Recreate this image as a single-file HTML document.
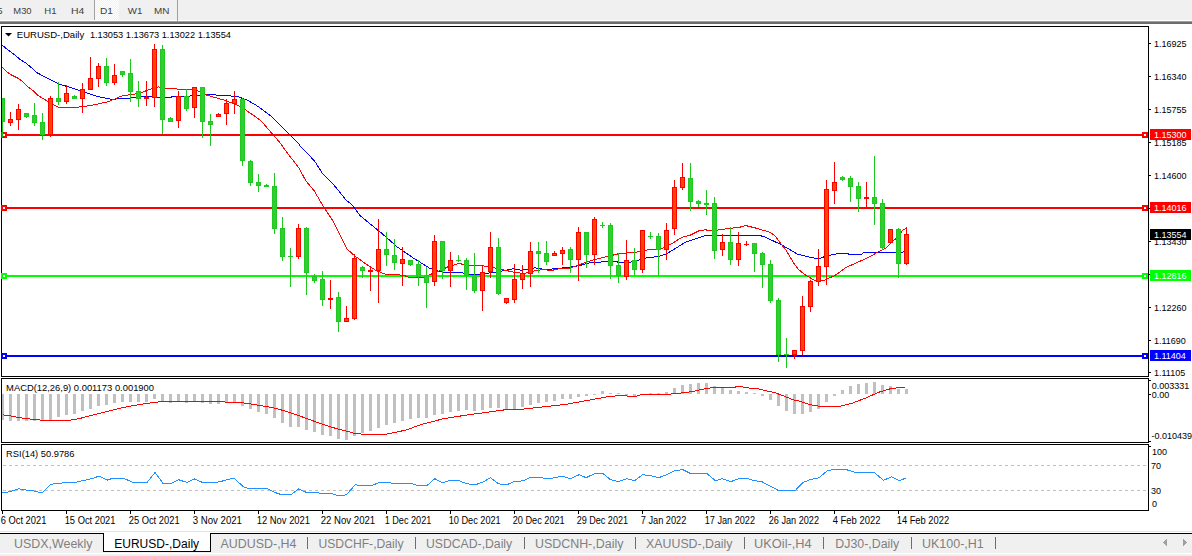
<!DOCTYPE html>
<html><head><meta charset="utf-8"><style>
html,body{margin:0;padding:0;width:1192px;height:556px;overflow:hidden;background:#fff;}
svg{display:block;}
text{font-family:"Liberation Sans",sans-serif;}
</style></head><body>
<svg width="1192" height="556" viewBox="0 0 1192 556" shape-rendering="crispEdges">
<defs>
<pattern id="chk" width="2" height="2" patternUnits="userSpaceOnUse"><rect width="2" height="2" fill="#F0F0F0"/><rect width="1" height="1" fill="#FFFFFF"/><rect x="1" y="1" width="1" height="1" fill="#FFFFFF"/></pattern>
<clipPath id="cmain"><rect x="2" y="27" width="1146" height="349"/></clipPath>
<clipPath id="cmacd"><rect x="2" y="379" width="1146" height="63"/></clipPath>
<clipPath id="crsi"><rect x="2" y="445" width="1146" height="65"/></clipPath>
</defs>
<!-- toolbar -->
<rect x="0" y="0" width="1192" height="20" fill="#F0F0F0"/>
<rect x="0" y="20" width="1192" height="1" fill="#FFFFFF"/>
<rect x="0" y="21" width="1192" height="1" fill="#A0A0A0"/>
<rect x="0" y="22" width="1192" height="2" fill="#6D6D6D"/>
<rect x="95" y="0" width="24" height="20" fill="url(#chk)"/>
<rect x="94" y="0" width="1" height="20" fill="#A0A0A0"/>
<rect x="177" y="0" width="1" height="21" fill="#A0A0A0"/>
<g font-size="9.5" fill="#404040">
<text x="-2.8" y="13.8">5</text>
<text x="13.3" y="13.8" font-size="9.5" textLength="18.3" lengthAdjust="spacingAndGlyphs">M30</text>
<text x="44.3" y="13.8" font-size="9.5" textLength="12.2" lengthAdjust="spacingAndGlyphs">H1</text>
<text x="70.9" y="13.8" font-size="9.5" textLength="13.3" lengthAdjust="spacingAndGlyphs">H4</text>
<text x="99.9" y="13.8" font-size="9.5" textLength="13.0" lengthAdjust="spacingAndGlyphs">D1</text>
<text x="127.8" y="13.8" font-size="9.5" textLength="14.6" lengthAdjust="spacingAndGlyphs">W1</text>
<text x="154.1" y="13.8" font-size="9.5" textLength="15.4" lengthAdjust="spacingAndGlyphs">MN</text>
</g>
<!-- main chart border -->
<g fill="#000">
<rect x="1" y="26" width="1148" height="1"/>
<rect x="1" y="26" width="1" height="351"/>
<rect x="1148" y="26" width="1" height="351"/>
<rect x="1" y="376" width="1148" height="1"/>
<rect x="1" y="378" width="1148" height="1"/>
<rect x="1" y="378" width="1" height="65"/>
<rect x="1148" y="378" width="1" height="65"/>
<rect x="1" y="442" width="1148" height="1"/>
<rect x="1" y="444" width="1148" height="1"/>
<rect x="1" y="444" width="1" height="67"/>
<rect x="1148" y="444" width="1" height="67"/>
<rect x="1" y="510" width="1148" height="1"/>
</g>
<rect x="1" y="132" width="6" height="6" fill="#FF0000"/><rect x="3" y="134" width="2" height="2" fill="#fff"/><rect x="1142" y="132" width="6" height="6" fill="#FF0000"/><rect x="1144" y="134" width="2" height="2" fill="#fff"/>
<rect x="1" y="205" width="6" height="6" fill="#FF0000"/><rect x="3" y="207" width="2" height="2" fill="#fff"/><rect x="1142" y="205" width="6" height="6" fill="#FF0000"/><rect x="1144" y="207" width="2" height="2" fill="#fff"/>
<rect x="1" y="273" width="6" height="6" fill="#00FF00"/><rect x="3" y="275" width="2" height="2" fill="#fff"/><rect x="1142" y="273" width="6" height="6" fill="#00FF00"/><rect x="1144" y="275" width="2" height="2" fill="#fff"/>
<rect x="1" y="353" width="6" height="6" fill="#0000FF"/><rect x="3" y="355" width="2" height="2" fill="#fff"/><rect x="1142" y="353" width="6" height="6" fill="#0000FF"/><rect x="1144" y="355" width="2" height="2" fill="#fff"/>
<g clip-path="url(#cmain)">
<rect x="7" y="134" width="1135" height="2" fill="#FF0000"/>
<rect x="7" y="207" width="1135" height="2" fill="#FF0000"/>
<rect x="7" y="275" width="1135" height="2" fill="#00FF00"/>
<rect x="7" y="355" width="1135" height="2" fill="#0000FF"/>
<polyline fill="none" stroke="#0000FF" stroke-width="1" points="2.5,45.5 8.1,50.0 14.5,54.7 20.4,59.7 25.9,63.1 32.6,68.6 36.5,72.5 58.5,83.8 81.1,90.9 95.2,95.9 111.3,99.3 131.5,97.9 140.5,96.5 158.0,97.3 164.8,98.0 174.2,96.6 190.5,96.0 205.2,94.6 224.1,95.3 237.5,96.6 247.1,100.0 255.2,104.7 258.5,106.8 272.0,116.9 280.0,125.0 289.5,134.5 298.9,143.9 300.5,146.5 310.6,156.7 315.3,162.1 322.1,172.9 332.9,183.7 341.0,193.8 346.4,200.5 351.8,204.6 359.9,215.5 365.0,219.7 381.1,232.8 397.2,246.9 413.3,258.0 429.5,268.1 440.5,271.9 462.1,272.9 472.9,274.9 485.0,273.5 499.9,271.5 513.4,268.8 521.5,270.2 526.9,269.5 535.0,267.9 545.8,269.5 557.9,268.5 572.8,266.8 580.8,265.2 590.5,262.7 606.7,261.6 614.8,261.4 617.5,262.0 631.0,262.0 639.1,260.0 647.2,257.6 658.0,256.7 666.1,254.0 674.2,249.2 685.0,242.5 695.8,238.7 705.2,235.7 717.4,235.7 720.1,235.1 740.5,235.1 756.7,235.1 763.5,236.4 781.0,244.5 797.2,254.0 808.0,256.7 818.8,259.0 824.2,256.7 832.3,254.6 840.4,253.3 847.1,253.3 848.5,254.0 862.0,254.0 863.3,252.6 897.1,252.6 904.5,251.9"/>
<polyline fill="none" stroke="#FF0000" stroke-width="1" points="2.5,67.5 6.5,71.5 11.3,74.9 18.0,78.3 22.5,81.5 27.5,86.5 32.9,90.5 38.3,95.8 41.0,97.2 47.7,101.3 54.5,105.3 58.5,107.4 70.7,107.8 82.8,106.7 95.0,104.7 108.5,101.6 122.0,95.9 135.5,93.9 140.5,92.8 148.5,89.9 158.0,86.9 167.5,88.5 181.0,89.2 191.8,89.9 193.9,89.9 195.0,89.7 207.2,95.3 226.1,100.7 238.2,105.5 245.0,109.5 255.8,116.9 261.2,121.0 269.3,130.5 278.7,141.2 288.2,154.0 299.0,168.1 300.5,170.9 305.9,181.0 314.0,190.5 323.4,206.6 328.8,214.7 332.7,220.7 346.8,248.9 354.9,256.0 369.0,266.1 377.1,271.1 387.1,274.7 403.3,275.1 409.3,277.5 423.4,277.5 433.5,273.1 440.5,270.5 448.5,266.5 459.4,263.4 467.5,265.7 472.9,265.7 487.7,266.1 494.5,267.9 505.3,270.2 513.4,272.2 524.2,273.5 535.0,270.8 543.1,269.5 551.2,270.5 559.3,268.8 570.1,268.1 580.8,264.1 590.5,260.7 606.7,256.7 617.5,254.0 637.7,251.9 647.2,249.9 655.3,249.9 663.4,247.9 671.5,243.8 682.3,237.1 690.4,235.1 698.5,231.0 705.2,229.7 710.6,231.0 720.1,229.7 730.8,228.3 738.9,227.0 740.5,227.0 745.9,225.6 756.7,228.3 770.2,232.4 775.6,236.4 781.0,243.8 786.4,250.6 793.1,262.1 798.5,269.5 805.3,274.9 812.0,278.9 817.4,281.9 824.2,280.3 835.0,275.5 845.8,267.5 856.6,262.7 867.4,258.0 878.2,251.9 886.3,247.9 891.7,241.8 897.1,237.8 902.2,230.7 906.7,227.7"/>
<rect x="2" y="98" width="1" height="39" fill="#1FC81F"/>
<rect x="0" y="98" width="5" height="24" fill="#1FC81F"/>
<rect x="1" y="99" width="3" height="22" fill="#32CD32"/>
<rect x="10" y="112" width="1" height="14" fill="#FF0000"/>
<rect x="8" y="119" width="5" height="4" fill="#FF0000"/>
<rect x="9" y="120" width="3" height="2" fill="#FF4500"/>
<rect x="18" y="104" width="1" height="26" fill="#FF0000"/>
<rect x="16" y="109" width="5" height="11" fill="#FF0000"/>
<rect x="17" y="110" width="3" height="9" fill="#FF4500"/>
<rect x="26" y="113" width="1" height="5" fill="#1FC81F"/>
<rect x="24" y="113" width="5" height="4" fill="#1FC81F"/>
<rect x="25" y="114" width="3" height="2" fill="#32CD32"/>
<rect x="34" y="103" width="1" height="23" fill="#1FC81F"/>
<rect x="32" y="115" width="5" height="8" fill="#1FC81F"/>
<rect x="33" y="116" width="3" height="6" fill="#32CD32"/>
<rect x="42" y="113" width="1" height="27" fill="#1FC81F"/>
<rect x="40" y="122" width="5" height="13" fill="#1FC81F"/>
<rect x="41" y="123" width="3" height="11" fill="#32CD32"/>
<rect x="50" y="96" width="1" height="41" fill="#FF0000"/>
<rect x="48" y="98" width="5" height="37" fill="#FF0000"/>
<rect x="49" y="99" width="3" height="35" fill="#FF4500"/>
<rect x="58" y="82" width="1" height="23" fill="#1FC81F"/>
<rect x="56" y="98" width="5" height="4" fill="#1FC81F"/>
<rect x="57" y="99" width="3" height="2" fill="#32CD32"/>
<rect x="66" y="85" width="1" height="19" fill="#FF0000"/>
<rect x="64" y="93" width="5" height="9" fill="#FF0000"/>
<rect x="65" y="94" width="3" height="7" fill="#FF4500"/>
<rect x="74" y="95" width="1" height="4" fill="#1FC81F"/>
<rect x="72" y="96" width="5" height="3" fill="#1FC81F"/>
<rect x="73" y="97" width="3" height="1" fill="#32CD32"/>
<rect x="82" y="83" width="1" height="30" fill="#FF0000"/>
<rect x="80" y="89" width="5" height="10" fill="#FF0000"/>
<rect x="81" y="90" width="3" height="8" fill="#FF4500"/>
<rect x="90" y="57" width="1" height="33" fill="#FF0000"/>
<rect x="88" y="78" width="5" height="12" fill="#FF0000"/>
<rect x="89" y="79" width="3" height="10" fill="#FF4500"/>
<rect x="98" y="63" width="1" height="24" fill="#FF0000"/>
<rect x="96" y="66" width="5" height="13" fill="#FF0000"/>
<rect x="97" y="67" width="3" height="11" fill="#FF4500"/>
<rect x="106" y="58" width="1" height="28" fill="#1FC81F"/>
<rect x="104" y="66" width="5" height="17" fill="#1FC81F"/>
<rect x="105" y="67" width="3" height="15" fill="#32CD32"/>
<rect x="114" y="64" width="1" height="21" fill="#FF0000"/>
<rect x="112" y="75" width="5" height="8" fill="#FF0000"/>
<rect x="113" y="76" width="3" height="6" fill="#FF4500"/>
<rect x="122" y="71" width="1" height="6" fill="#1FC81F"/>
<rect x="120" y="71" width="5" height="4" fill="#1FC81F"/>
<rect x="121" y="72" width="3" height="2" fill="#32CD32"/>
<rect x="130" y="59" width="1" height="43" fill="#1FC81F"/>
<rect x="128" y="73" width="5" height="19" fill="#1FC81F"/>
<rect x="129" y="74" width="3" height="17" fill="#32CD32"/>
<rect x="138" y="81" width="1" height="26" fill="#1FC81F"/>
<rect x="136" y="91" width="5" height="8" fill="#1FC81F"/>
<rect x="137" y="92" width="3" height="6" fill="#32CD32"/>
<rect x="146" y="81" width="1" height="25" fill="#FF0000"/>
<rect x="144" y="97" width="5" height="2" fill="#FF0000"/>
<rect x="154" y="44" width="1" height="63" fill="#FF0000"/>
<rect x="152" y="49" width="5" height="49" fill="#FF0000"/>
<rect x="153" y="50" width="3" height="47" fill="#FF4500"/>
<rect x="162" y="45" width="1" height="89" fill="#1FC81F"/>
<rect x="160" y="49" width="5" height="71" fill="#1FC81F"/>
<rect x="161" y="50" width="3" height="69" fill="#32CD32"/>
<rect x="170" y="117" width="1" height="5" fill="#1FC81F"/>
<rect x="168" y="118" width="5" height="4" fill="#1FC81F"/>
<rect x="169" y="119" width="3" height="2" fill="#32CD32"/>
<rect x="178" y="91" width="1" height="37" fill="#FF0000"/>
<rect x="176" y="96" width="5" height="25" fill="#FF0000"/>
<rect x="177" y="97" width="3" height="23" fill="#FF4500"/>
<rect x="186" y="89" width="1" height="22" fill="#1FC81F"/>
<rect x="184" y="96" width="5" height="13" fill="#1FC81F"/>
<rect x="185" y="97" width="3" height="11" fill="#32CD32"/>
<rect x="194" y="87" width="1" height="31" fill="#FF0000"/>
<rect x="192" y="87" width="5" height="21" fill="#FF0000"/>
<rect x="193" y="88" width="3" height="19" fill="#FF4500"/>
<rect x="202" y="87" width="1" height="51" fill="#1FC81F"/>
<rect x="200" y="87" width="5" height="35" fill="#1FC81F"/>
<rect x="201" y="88" width="3" height="33" fill="#32CD32"/>
<rect x="210" y="114" width="1" height="32" fill="#1FC81F"/>
<rect x="208" y="121" width="5" height="4" fill="#1FC81F"/>
<rect x="209" y="122" width="3" height="2" fill="#32CD32"/>
<rect x="218" y="113" width="1" height="4" fill="#FF0000"/>
<rect x="216" y="114" width="5" height="3" fill="#FF0000"/>
<rect x="217" y="115" width="3" height="1" fill="#FF4500"/>
<rect x="226" y="99" width="1" height="26" fill="#FF0000"/>
<rect x="224" y="103" width="5" height="11" fill="#FF0000"/>
<rect x="225" y="104" width="3" height="9" fill="#FF4500"/>
<rect x="234" y="91" width="1" height="23" fill="#FF0000"/>
<rect x="232" y="99" width="5" height="5" fill="#FF0000"/>
<rect x="233" y="100" width="3" height="3" fill="#FF4500"/>
<rect x="242" y="98" width="1" height="68" fill="#1FC81F"/>
<rect x="240" y="99" width="5" height="62" fill="#1FC81F"/>
<rect x="241" y="100" width="3" height="60" fill="#32CD32"/>
<rect x="250" y="160" width="1" height="26" fill="#1FC81F"/>
<rect x="248" y="161" width="5" height="22" fill="#1FC81F"/>
<rect x="249" y="162" width="3" height="20" fill="#32CD32"/>
<rect x="258" y="174" width="1" height="18" fill="#1FC81F"/>
<rect x="256" y="182" width="5" height="4" fill="#1FC81F"/>
<rect x="257" y="183" width="3" height="2" fill="#32CD32"/>
<rect x="266" y="184" width="1" height="3" fill="#1FC81F"/>
<rect x="264" y="185" width="5" height="2" fill="#1FC81F"/>
<rect x="274" y="173" width="1" height="61" fill="#1FC81F"/>
<rect x="272" y="186" width="5" height="43" fill="#1FC81F"/>
<rect x="273" y="187" width="3" height="41" fill="#32CD32"/>
<rect x="282" y="217" width="1" height="44" fill="#1FC81F"/>
<rect x="280" y="228" width="5" height="29" fill="#1FC81F"/>
<rect x="281" y="229" width="3" height="27" fill="#32CD32"/>
<rect x="290" y="248" width="1" height="39" fill="#1FC81F"/>
<rect x="288" y="256" width="5" height="1" fill="#1FC81F"/>
<rect x="298" y="224" width="1" height="35" fill="#FF0000"/>
<rect x="296" y="228" width="5" height="29" fill="#FF0000"/>
<rect x="297" y="229" width="3" height="27" fill="#FF4500"/>
<rect x="306" y="227" width="1" height="68" fill="#1FC81F"/>
<rect x="304" y="228" width="5" height="45" fill="#1FC81F"/>
<rect x="305" y="229" width="3" height="43" fill="#32CD32"/>
<rect x="314" y="274" width="1" height="9" fill="#1FC81F"/>
<rect x="312" y="276" width="5" height="5" fill="#1FC81F"/>
<rect x="313" y="277" width="3" height="3" fill="#32CD32"/>
<rect x="322" y="271" width="1" height="35" fill="#1FC81F"/>
<rect x="320" y="279" width="5" height="21" fill="#1FC81F"/>
<rect x="321" y="280" width="3" height="19" fill="#32CD32"/>
<rect x="330" y="280" width="1" height="29" fill="#FF0000"/>
<rect x="328" y="298" width="5" height="2" fill="#FF0000"/>
<rect x="338" y="292" width="1" height="40" fill="#1FC81F"/>
<rect x="336" y="297" width="5" height="25" fill="#1FC81F"/>
<rect x="337" y="298" width="3" height="23" fill="#32CD32"/>
<rect x="346" y="306" width="1" height="16" fill="#FF0000"/>
<rect x="344" y="318" width="5" height="4" fill="#FF0000"/>
<rect x="345" y="319" width="3" height="2" fill="#FF4500"/>
<rect x="354" y="254" width="1" height="66" fill="#FF0000"/>
<rect x="352" y="258" width="5" height="61" fill="#FF0000"/>
<rect x="353" y="259" width="3" height="59" fill="#FF4500"/>
<rect x="362" y="266" width="1" height="12" fill="#1FC81F"/>
<rect x="360" y="267" width="5" height="4" fill="#1FC81F"/>
<rect x="361" y="268" width="3" height="2" fill="#32CD32"/>
<rect x="370" y="266" width="1" height="25" fill="#FF0000"/>
<rect x="368" y="270" width="5" height="2" fill="#FF0000"/>
<rect x="378" y="219" width="1" height="84" fill="#FF0000"/>
<rect x="376" y="249" width="5" height="22" fill="#FF0000"/>
<rect x="377" y="250" width="3" height="20" fill="#FF4500"/>
<rect x="386" y="232" width="1" height="34" fill="#1FC81F"/>
<rect x="384" y="249" width="5" height="6" fill="#1FC81F"/>
<rect x="385" y="250" width="3" height="4" fill="#32CD32"/>
<rect x="394" y="239" width="1" height="31" fill="#1FC81F"/>
<rect x="392" y="255" width="5" height="8" fill="#1FC81F"/>
<rect x="393" y="256" width="3" height="6" fill="#32CD32"/>
<rect x="402" y="247" width="1" height="39" fill="#FF0000"/>
<rect x="400" y="259" width="5" height="5" fill="#FF0000"/>
<rect x="401" y="260" width="3" height="3" fill="#FF4500"/>
<rect x="410" y="260" width="1" height="6" fill="#1FC81F"/>
<rect x="408" y="260" width="5" height="5" fill="#1FC81F"/>
<rect x="409" y="261" width="3" height="3" fill="#32CD32"/>
<rect x="418" y="260" width="1" height="26" fill="#1FC81F"/>
<rect x="416" y="264" width="5" height="13" fill="#1FC81F"/>
<rect x="417" y="265" width="3" height="11" fill="#32CD32"/>
<rect x="426" y="267" width="1" height="41" fill="#1FC81F"/>
<rect x="424" y="275" width="5" height="8" fill="#1FC81F"/>
<rect x="425" y="276" width="3" height="6" fill="#32CD32"/>
<rect x="434" y="235" width="1" height="51" fill="#FF0000"/>
<rect x="432" y="241" width="5" height="41" fill="#FF0000"/>
<rect x="433" y="242" width="3" height="39" fill="#FF4500"/>
<rect x="442" y="241" width="1" height="38" fill="#1FC81F"/>
<rect x="440" y="241" width="5" height="30" fill="#1FC81F"/>
<rect x="441" y="242" width="3" height="28" fill="#32CD32"/>
<rect x="450" y="252" width="1" height="35" fill="#FF0000"/>
<rect x="448" y="260" width="5" height="11" fill="#FF0000"/>
<rect x="449" y="261" width="3" height="9" fill="#FF4500"/>
<rect x="458" y="255" width="1" height="7" fill="#1FC81F"/>
<rect x="456" y="260" width="5" height="1" fill="#1FC81F"/>
<rect x="466" y="258" width="1" height="32" fill="#1FC81F"/>
<rect x="464" y="260" width="5" height="16" fill="#1FC81F"/>
<rect x="465" y="261" width="3" height="14" fill="#32CD32"/>
<rect x="474" y="253" width="1" height="40" fill="#1FC81F"/>
<rect x="472" y="275" width="5" height="16" fill="#1FC81F"/>
<rect x="473" y="276" width="3" height="14" fill="#32CD32"/>
<rect x="482" y="265" width="1" height="46" fill="#FF0000"/>
<rect x="480" y="272" width="5" height="19" fill="#FF0000"/>
<rect x="481" y="273" width="3" height="17" fill="#FF4500"/>
<rect x="490" y="232" width="1" height="46" fill="#FF0000"/>
<rect x="488" y="247" width="5" height="25" fill="#FF0000"/>
<rect x="489" y="248" width="3" height="23" fill="#FF4500"/>
<rect x="498" y="238" width="1" height="57" fill="#1FC81F"/>
<rect x="496" y="247" width="5" height="47" fill="#1FC81F"/>
<rect x="497" y="248" width="3" height="45" fill="#32CD32"/>
<rect x="506" y="298" width="1" height="6" fill="#FF0000"/>
<rect x="504" y="298" width="5" height="5" fill="#FF0000"/>
<rect x="505" y="299" width="3" height="3" fill="#FF4500"/>
<rect x="514" y="264" width="1" height="39" fill="#FF0000"/>
<rect x="512" y="279" width="5" height="21" fill="#FF0000"/>
<rect x="513" y="280" width="3" height="19" fill="#FF4500"/>
<rect x="522" y="265" width="1" height="24" fill="#FF0000"/>
<rect x="520" y="273" width="5" height="7" fill="#FF0000"/>
<rect x="521" y="274" width="3" height="5" fill="#FF4500"/>
<rect x="530" y="242" width="1" height="45" fill="#FF0000"/>
<rect x="528" y="251" width="5" height="23" fill="#FF0000"/>
<rect x="529" y="252" width="3" height="21" fill="#FF4500"/>
<rect x="538" y="242" width="1" height="31" fill="#1FC81F"/>
<rect x="536" y="251" width="5" height="3" fill="#1FC81F"/>
<rect x="537" y="252" width="3" height="1" fill="#32CD32"/>
<rect x="546" y="241" width="1" height="24" fill="#1FC81F"/>
<rect x="544" y="253" width="5" height="9" fill="#1FC81F"/>
<rect x="545" y="254" width="3" height="7" fill="#32CD32"/>
<rect x="554" y="251" width="1" height="5" fill="#FF0000"/>
<rect x="552" y="253" width="5" height="3" fill="#FF0000"/>
<rect x="553" y="254" width="3" height="1" fill="#FF4500"/>
<rect x="562" y="247" width="1" height="18" fill="#FF0000"/>
<rect x="560" y="250" width="5" height="4" fill="#FF0000"/>
<rect x="561" y="251" width="3" height="2" fill="#FF4500"/>
<rect x="570" y="247" width="1" height="26" fill="#1FC81F"/>
<rect x="568" y="249" width="5" height="11" fill="#1FC81F"/>
<rect x="569" y="250" width="3" height="9" fill="#32CD32"/>
<rect x="578" y="227" width="1" height="54" fill="#FF0000"/>
<rect x="576" y="232" width="5" height="28" fill="#FF0000"/>
<rect x="577" y="233" width="3" height="26" fill="#FF4500"/>
<rect x="586" y="232" width="1" height="36" fill="#1FC81F"/>
<rect x="584" y="232" width="5" height="23" fill="#1FC81F"/>
<rect x="585" y="233" width="3" height="21" fill="#32CD32"/>
<rect x="594" y="217" width="1" height="48" fill="#FF0000"/>
<rect x="592" y="219" width="5" height="36" fill="#FF0000"/>
<rect x="593" y="220" width="3" height="34" fill="#FF4500"/>
<rect x="602" y="222" width="1" height="6" fill="#1FC81F"/>
<rect x="600" y="225" width="5" height="1" fill="#1FC81F"/>
<rect x="610" y="223" width="1" height="56" fill="#1FC81F"/>
<rect x="608" y="225" width="5" height="41" fill="#1FC81F"/>
<rect x="609" y="226" width="3" height="39" fill="#32CD32"/>
<rect x="618" y="253" width="1" height="30" fill="#1FC81F"/>
<rect x="616" y="265" width="5" height="11" fill="#1FC81F"/>
<rect x="617" y="266" width="3" height="9" fill="#32CD32"/>
<rect x="626" y="240" width="1" height="40" fill="#FF0000"/>
<rect x="624" y="260" width="5" height="17" fill="#FF0000"/>
<rect x="625" y="261" width="3" height="15" fill="#FF4500"/>
<rect x="634" y="248" width="1" height="27" fill="#1FC81F"/>
<rect x="632" y="260" width="5" height="10" fill="#1FC81F"/>
<rect x="633" y="261" width="3" height="8" fill="#32CD32"/>
<rect x="642" y="230" width="1" height="43" fill="#FF0000"/>
<rect x="640" y="230" width="5" height="40" fill="#FF0000"/>
<rect x="641" y="231" width="3" height="38" fill="#FF4500"/>
<rect x="650" y="232" width="1" height="7" fill="#1FC81F"/>
<rect x="648" y="236" width="5" height="1" fill="#1FC81F"/>
<rect x="658" y="233" width="1" height="43" fill="#1FC81F"/>
<rect x="656" y="236" width="5" height="14" fill="#1FC81F"/>
<rect x="657" y="237" width="3" height="12" fill="#32CD32"/>
<rect x="666" y="223" width="1" height="37" fill="#FF0000"/>
<rect x="664" y="230" width="5" height="20" fill="#FF0000"/>
<rect x="665" y="231" width="3" height="18" fill="#FF4500"/>
<rect x="674" y="180" width="1" height="55" fill="#FF0000"/>
<rect x="672" y="187" width="5" height="42" fill="#FF0000"/>
<rect x="673" y="188" width="3" height="40" fill="#FF4500"/>
<rect x="682" y="163" width="1" height="27" fill="#FF0000"/>
<rect x="680" y="177" width="5" height="11" fill="#FF0000"/>
<rect x="681" y="178" width="3" height="9" fill="#FF4500"/>
<rect x="690" y="163" width="1" height="48" fill="#1FC81F"/>
<rect x="688" y="178" width="5" height="24" fill="#1FC81F"/>
<rect x="689" y="179" width="3" height="22" fill="#32CD32"/>
<rect x="698" y="200" width="1" height="7" fill="#1FC81F"/>
<rect x="696" y="201" width="5" height="3" fill="#1FC81F"/>
<rect x="697" y="202" width="3" height="1" fill="#32CD32"/>
<rect x="706" y="190" width="1" height="25" fill="#1FC81F"/>
<rect x="704" y="203" width="5" height="2" fill="#1FC81F"/>
<rect x="714" y="197" width="1" height="62" fill="#1FC81F"/>
<rect x="712" y="203" width="5" height="48" fill="#1FC81F"/>
<rect x="713" y="204" width="3" height="46" fill="#32CD32"/>
<rect x="722" y="234" width="1" height="22" fill="#FF0000"/>
<rect x="720" y="242" width="5" height="8" fill="#FF0000"/>
<rect x="721" y="243" width="3" height="6" fill="#FF4500"/>
<rect x="730" y="227" width="1" height="38" fill="#1FC81F"/>
<rect x="728" y="242" width="5" height="18" fill="#1FC81F"/>
<rect x="729" y="243" width="3" height="16" fill="#32CD32"/>
<rect x="738" y="232" width="1" height="34" fill="#FF0000"/>
<rect x="736" y="243" width="5" height="17" fill="#FF0000"/>
<rect x="737" y="244" width="3" height="15" fill="#FF4500"/>
<rect x="746" y="241" width="1" height="5" fill="#FF0000"/>
<rect x="744" y="244" width="5" height="1" fill="#FF0000"/>
<rect x="754" y="243" width="1" height="29" fill="#1FC81F"/>
<rect x="752" y="243" width="5" height="11" fill="#1FC81F"/>
<rect x="753" y="244" width="3" height="9" fill="#32CD32"/>
<rect x="762" y="252" width="1" height="36" fill="#1FC81F"/>
<rect x="760" y="253" width="5" height="12" fill="#1FC81F"/>
<rect x="761" y="254" width="3" height="10" fill="#32CD32"/>
<rect x="770" y="260" width="1" height="43" fill="#1FC81F"/>
<rect x="768" y="264" width="5" height="37" fill="#1FC81F"/>
<rect x="769" y="265" width="3" height="35" fill="#32CD32"/>
<rect x="778" y="298" width="1" height="64" fill="#1FC81F"/>
<rect x="776" y="300" width="5" height="55" fill="#1FC81F"/>
<rect x="777" y="301" width="3" height="53" fill="#32CD32"/>
<rect x="786" y="338" width="1" height="30" fill="#1FC81F"/>
<rect x="784" y="354" width="5" height="1" fill="#1FC81F"/>
<rect x="794" y="350" width="1" height="9" fill="#FF0000"/>
<rect x="792" y="350" width="5" height="5" fill="#FF0000"/>
<rect x="793" y="351" width="3" height="3" fill="#FF4500"/>
<rect x="802" y="296" width="1" height="59" fill="#FF0000"/>
<rect x="800" y="306" width="5" height="45" fill="#FF0000"/>
<rect x="801" y="307" width="3" height="43" fill="#FF4500"/>
<rect x="810" y="280" width="1" height="32" fill="#FF0000"/>
<rect x="808" y="281" width="5" height="26" fill="#FF0000"/>
<rect x="809" y="282" width="3" height="24" fill="#FF4500"/>
<rect x="818" y="249" width="1" height="37" fill="#FF0000"/>
<rect x="816" y="266" width="5" height="16" fill="#FF0000"/>
<rect x="817" y="267" width="3" height="14" fill="#FF4500"/>
<rect x="826" y="180" width="1" height="105" fill="#FF0000"/>
<rect x="824" y="189" width="5" height="78" fill="#FF0000"/>
<rect x="825" y="190" width="3" height="76" fill="#FF4500"/>
<rect x="834" y="162" width="1" height="42" fill="#FF0000"/>
<rect x="832" y="182" width="5" height="9" fill="#FF0000"/>
<rect x="833" y="183" width="3" height="7" fill="#FF4500"/>
<rect x="842" y="176" width="1" height="5" fill="#1FC81F"/>
<rect x="840" y="177" width="5" height="3" fill="#1FC81F"/>
<rect x="841" y="178" width="3" height="1" fill="#32CD32"/>
<rect x="850" y="176" width="1" height="26" fill="#1FC81F"/>
<rect x="848" y="178" width="5" height="9" fill="#1FC81F"/>
<rect x="849" y="179" width="3" height="7" fill="#32CD32"/>
<rect x="858" y="182" width="1" height="30" fill="#1FC81F"/>
<rect x="856" y="186" width="5" height="13" fill="#1FC81F"/>
<rect x="857" y="187" width="3" height="11" fill="#32CD32"/>
<rect x="866" y="182" width="1" height="26" fill="#FF0000"/>
<rect x="864" y="197" width="5" height="2" fill="#FF0000"/>
<rect x="874" y="156" width="1" height="69" fill="#1FC81F"/>
<rect x="872" y="197" width="5" height="7" fill="#1FC81F"/>
<rect x="873" y="198" width="3" height="5" fill="#32CD32"/>
<rect x="882" y="199" width="1" height="51" fill="#1FC81F"/>
<rect x="880" y="203" width="5" height="45" fill="#1FC81F"/>
<rect x="881" y="204" width="3" height="43" fill="#32CD32"/>
<rect x="890" y="229" width="1" height="14" fill="#FF0000"/>
<rect x="888" y="229" width="5" height="14" fill="#FF0000"/>
<rect x="889" y="230" width="3" height="12" fill="#FF4500"/>
<rect x="898" y="228" width="1" height="50" fill="#1FC81F"/>
<rect x="896" y="229" width="5" height="35" fill="#1FC81F"/>
<rect x="897" y="230" width="3" height="33" fill="#32CD32"/>
<rect x="906" y="227" width="1" height="38" fill="#FF0000"/>
<rect x="904" y="234" width="5" height="30" fill="#FF0000"/>
<rect x="905" y="235" width="3" height="28" fill="#FF4500"/>
</g>
<!-- price axis -->
<g fill="#000">
<rect x="1149" y="43" width="2" height="1"/><text x="1154" y="47.2" font-size="9">1.16925</text>
<rect x="1149" y="76" width="2" height="1"/><text x="1154" y="80.2" font-size="9">1.16340</text>
<rect x="1149" y="109" width="2" height="1"/><text x="1154" y="113.2" font-size="9">1.15755</text>
<rect x="1149" y="142" width="2" height="1"/><text x="1154" y="146.2" font-size="9">1.15185</text>
<rect x="1149" y="175" width="2" height="1"/><text x="1154" y="179.2" font-size="9">1.14600</text>
<rect x="1149" y="241" width="2" height="1"/><text x="1154" y="245.2" font-size="9">1.13430</text>
<rect x="1149" y="307" width="2" height="1"/><text x="1154" y="311.2" font-size="9">1.12260</text>
<rect x="1149" y="340" width="2" height="1"/><text x="1154" y="344.2" font-size="9">1.11690</text>
<rect x="1149" y="372" width="2" height="1"/><text x="1154" y="376.2" font-size="9">1.11105</text>
<rect x="1149" y="208" width="2" height="1"/><rect x="1149" y="274" width="2" height="1"/>
</g>
<rect x="1150" y="129" width="41" height="11" fill="#FF0000"/><text x="1154" y="138.3" fill="#FFFFFF" font-size="9">1.15300</text>
<rect x="1150" y="202" width="41" height="11" fill="#FF0000"/><text x="1154" y="211.3" fill="#FFFFFF" font-size="9">1.14016</text>
<rect x="1150" y="229" width="41" height="11" fill="#000000"/><text x="1154" y="238.3" fill="#FFFFFF" font-size="9">1.13554</text>
<rect x="1150" y="270" width="41" height="11" fill="#00FF00"/><text x="1154" y="279.3" fill="#FFFFFF" font-size="9">1.12816</text>
<rect x="1150" y="350" width="41" height="11" fill="#0000FF"/><text x="1154" y="359.3" fill="#FFFFFF" font-size="9">1.11404</text>
<polygon points="5,33 12,33 8.5,36.5" fill="#000" shape-rendering="auto"/>
<text x="16.8" y="38.0" font-size="9.5" textLength="67.4" lengthAdjust="spacingAndGlyphs" fill="#000">EURUSD-,Daily</text>
<text x="89.9" y="38.0" font-size="9.2" textLength="141.1" lengthAdjust="spacingAndGlyphs" fill="#000">1.13053 1.13673 1.13022 1.13554</text>
<!-- MACD -->
<g clip-path="url(#cmacd)">
<g fill="#C0C0C0">
<rect x="1" y="394" width="3" height="26"/>
<rect x="9" y="394" width="3" height="27"/>
<rect x="17" y="394" width="3" height="27"/>
<rect x="25" y="394" width="3" height="27"/>
<rect x="33" y="394" width="3" height="27"/>
<rect x="41" y="394" width="3" height="27"/>
<rect x="49" y="394" width="3" height="27"/>
<rect x="57" y="394" width="3" height="23"/>
<rect x="65" y="394" width="3" height="21"/>
<rect x="73" y="394" width="3" height="20"/>
<rect x="81" y="394" width="3" height="17"/>
<rect x="89" y="394" width="3" height="15"/>
<rect x="97" y="394" width="3" height="12"/>
<rect x="105" y="394" width="3" height="11"/>
<rect x="113" y="394" width="3" height="9"/>
<rect x="121" y="394" width="3" height="8"/>
<rect x="129" y="394" width="3" height="8"/>
<rect x="137" y="394" width="3" height="8"/>
<rect x="145" y="394" width="3" height="8"/>
<rect x="153" y="394" width="3" height="5"/>
<rect x="161" y="394" width="3" height="7"/>
<rect x="169" y="394" width="3" height="9"/>
<rect x="177" y="394" width="3" height="7"/>
<rect x="185" y="394" width="3" height="9"/>
<rect x="193" y="394" width="3" height="8"/>
<rect x="201" y="394" width="3" height="9"/>
<rect x="209" y="394" width="3" height="10"/>
<rect x="217" y="394" width="3" height="10"/>
<rect x="225" y="394" width="3" height="8"/>
<rect x="233" y="394" width="3" height="8"/>
<rect x="241" y="394" width="3" height="12"/>
<rect x="249" y="394" width="3" height="15"/>
<rect x="257" y="394" width="3" height="18"/>
<rect x="265" y="394" width="3" height="20"/>
<rect x="273" y="394" width="3" height="24"/>
<rect x="281" y="394" width="3" height="29"/>
<rect x="289" y="394" width="3" height="33"/>
<rect x="297" y="394" width="3" height="33"/>
<rect x="305" y="394" width="3" height="36"/>
<rect x="313" y="394" width="3" height="38"/>
<rect x="321" y="394" width="3" height="41"/>
<rect x="329" y="394" width="3" height="42"/>
<rect x="337" y="394" width="3" height="45"/>
<rect x="345" y="394" width="3" height="46"/>
<rect x="353" y="394" width="3" height="42"/>
<rect x="361" y="394" width="3" height="39"/>
<rect x="369" y="394" width="3" height="37"/>
<rect x="377" y="394" width="3" height="34"/>
<rect x="385" y="394" width="3" height="31"/>
<rect x="393" y="394" width="3" height="29"/>
<rect x="401" y="394" width="3" height="27"/>
<rect x="409" y="394" width="3" height="25"/>
<rect x="417" y="394" width="3" height="24"/>
<rect x="425" y="394" width="3" height="24"/>
<rect x="433" y="394" width="3" height="21"/>
<rect x="441" y="394" width="3" height="20"/>
<rect x="449" y="394" width="3" height="18"/>
<rect x="457" y="394" width="3" height="17"/>
<rect x="465" y="394" width="3" height="16"/>
<rect x="473" y="394" width="3" height="17"/>
<rect x="481" y="394" width="3" height="16"/>
<rect x="489" y="394" width="3" height="14"/>
<rect x="497" y="394" width="3" height="14"/>
<rect x="505" y="394" width="3" height="15"/>
<rect x="513" y="394" width="3" height="15"/>
<rect x="521" y="394" width="3" height="13"/>
<rect x="529" y="394" width="3" height="11"/>
<rect x="537" y="394" width="3" height="9"/>
<rect x="545" y="394" width="3" height="8"/>
<rect x="553" y="394" width="3" height="7"/>
<rect x="561" y="394" width="3" height="5"/>
<rect x="569" y="394" width="3" height="5"/>
<rect x="577" y="394" width="3" height="3"/>
<rect x="585" y="394" width="3" height="2"/>
<rect x="593" y="394" width="3" height="1"/>
<rect x="625" y="394" width="3" height="2"/>
<rect x="633" y="394" width="3" height="3"/>
<rect x="641" y="394" width="3" height="1"/>
<rect x="761" y="394" width="3" height="2"/>
<rect x="769" y="394" width="3" height="6"/>
<rect x="777" y="394" width="3" height="12"/>
<rect x="785" y="394" width="3" height="17"/>
<rect x="793" y="394" width="3" height="20"/>
<rect x="801" y="394" width="3" height="20"/>
<rect x="809" y="394" width="3" height="18"/>
<rect x="817" y="394" width="3" height="15"/>
<rect x="825" y="394" width="3" height="8"/>
<rect x="833" y="394" width="3" height="2"/>
<rect x="601" y="391" width="3" height="3"/>
<rect x="609" y="393" width="3" height="1"/>
<rect x="617" y="393" width="3" height="1"/>
<rect x="657" y="393" width="3" height="1"/>
<rect x="665" y="392" width="3" height="2"/>
<rect x="673" y="388" width="3" height="6"/>
<rect x="681" y="385" width="3" height="9"/>
<rect x="689" y="384" width="3" height="10"/>
<rect x="697" y="383" width="3" height="11"/>
<rect x="705" y="383" width="3" height="11"/>
<rect x="713" y="386" width="3" height="8"/>
<rect x="721" y="388" width="3" height="6"/>
<rect x="729" y="390" width="3" height="4"/>
<rect x="737" y="391" width="3" height="3"/>
<rect x="745" y="392" width="3" height="2"/>
<rect x="753" y="393" width="3" height="1"/>
<rect x="841" y="390" width="3" height="4"/>
<rect x="849" y="386" width="3" height="8"/>
<rect x="857" y="384" width="3" height="10"/>
<rect x="865" y="383" width="3" height="11"/>
<rect x="873" y="382" width="3" height="12"/>
<rect x="881" y="385" width="3" height="9"/>
<rect x="889" y="386" width="3" height="8"/>
<rect x="897" y="389" width="3" height="5"/>
<rect x="905" y="389" width="3" height="5"/>
<rect x="649" y="393" width="3" height="1"/>
</g>
<polyline fill="none" stroke="#FF0000" stroke-width="1" points="2.5,414.7 11.2,416.1 26.0,418.8 38.1,419.5 40.8,420.4 68.9,420.4 78.4,418.8 94.5,414.7 107.9,411.4 121.3,408.0 134.7,405.3 148.2,403.3 158.9,401.9 223.3,401.9 245.6,403.1 255.7,404.7 275.9,408.3 292.0,413.2 310.1,419.8 330.3,426.9 354.5,433.3 368.6,434.9 382.7,434.9 406.8,429.9 418.9,425.2 443.1,418.8 465.5,415.2 505.8,409.7 517.9,409.7 566.2,404.3 606.5,397.0 616.6,395.8 636.8,396.2 640.5,394.9 669.4,394.9 670.7,394.0 684.8,392.6 694.2,391.3 702.3,389.3 711.7,387.7 734.5,387.7 735.8,386.9 742.5,386.9 751.9,388.6 758.6,389.0 764.0,390.3 774.7,392.6 780.1,394.6 785.5,396.7 793.5,400.0 800.5,401.4 810.3,404.7 822.4,406.7 838.5,406.7 852.6,403.1 866.7,397.6 878.8,392.2 890.9,388.6 905.0,387.0"/>
</g>
<text x="6.1" y="390.9" font-size="9.4" textLength="147.9" lengthAdjust="spacingAndGlyphs" fill="#000">MACD(12,26,9) 0.001173 0.001900</text>
<g fill="#000">
<rect x="1149" y="380" width="2" height="1"/><rect x="1149" y="394" width="2" height="1"/>
<text x="1151.8" y="389" font-size="9">0.003331</text>
<text x="1151.8" y="398" font-size="9">0.00</text>
<text x="1151.5" y="439" font-size="9">-0.010439</text>
<rect x="1149" y="441" width="2" height="1"/>
</g>
<!-- RSI -->
<g clip-path="url(#crsi)">
<line x1="3" y1="465.5" x2="1148" y2="465.5" stroke="#C0C0C0" stroke-dasharray="3,3" shape-rendering="crispEdges"/>
<line x1="3" y1="490.5" x2="1148" y2="490.5" stroke="#C0C0C0" stroke-dasharray="3,3" shape-rendering="crispEdges"/>
<polyline fill="none" stroke="#1E90FF" stroke-width="1" points="2.5,492.8 10.5,491.7 18.5,488.8 26.7,490.1 32.7,490.8 42.1,492.8 50.8,484.1 59.5,483.7 66.3,482.1 74.3,482.8 81.0,481.0 91.8,478.7 99.2,476.0 107.2,480.1 113.3,478.1 123.3,478.1 131.4,481.8 136.1,482.8 146.8,482.8 154.9,472.7 155.2,472.7 163.3,483.8 170.8,483.8 178.8,479.8 186.9,482.4 194.9,478.8 203.0,482.8 212.1,482.8 220.1,481.8 228.2,479.2 234.2,478.4 235.5,479.7 243.6,486.8 249.6,488.8 267.7,488.8 275.8,492.8 281.8,494.8 290.9,494.8 298.9,488.8 307.0,492.8 318.0,492.8 322.1,493.8 332.1,493.8 339.2,495.8 346.2,494.8 355.3,484.8 361.3,485.8 371.4,485.8 378.4,482.8 390.5,482.8 392.5,483.8 412.7,483.8 418.7,485.8 426.8,485.8 434.8,478.7 442.9,482.8 448.9,480.7 459.0,480.7 467.0,483.8 475.5,484.8 483.6,481.7 490.6,477.7 498.7,483.8 506.7,484.8 513.8,481.7 523.8,480.7 529.9,477.7 541.9,477.7 546.0,478.7 551.0,478.7 554.0,477.7 560.1,476.7 564.1,476.7 570.1,478.7 579.2,474.7 586.2,477.7 594.3,473.7 603.3,473.7 610.4,479.7 618.4,481.7 626.5,478.7 634.5,480.7 642.6,474.7 650.7,475.7 658.7,477.7 666.8,474.7 674.8,470.7 682.9,469.7 690.9,473.7 707.0,473.7 715.5,480.7 722.5,478.7 730.6,481.7 738.7,478.7 747.7,478.7 754.8,480.7 761.8,481.7 769.9,485.8 778.9,490.8 795.0,490.8 803.1,482.4 810.1,479.7 819.2,477.7 827.2,470.7 832.3,469.7 846.4,469.7 856.4,472.7 874.5,472.7 883.6,480.3 891.7,476.7 899.7,480.7 906.4,477.7"/>
</g>
<text x="6.1" y="456.8" font-size="9.3" textLength="68.4" lengthAdjust="spacingAndGlyphs" fill="#000">RSI(14) 50.9786</text>
<g fill="#000" font-size="9">
<rect x="1149" y="446" width="2" height="1"/>
<text x="1152" y="455">100</text>
<text x="1151" y="469">70</text>
<text x="1151" y="494">30</text>
<text x="1152" y="506.7">0</text>
</g>
<!-- dates -->
<g fill="#000">
<rect x="2" y="511" width="1" height="3"/><text x="0.7" y="523.5" font-size="10" textLength="45.7" lengthAdjust="spacingAndGlyphs">6 Oct 2021</text>
<rect x="66" y="511" width="1" height="3"/><text x="64.7" y="523.5" font-size="10" textLength="50.8" lengthAdjust="spacingAndGlyphs">15 Oct 2021</text>
<rect x="130" y="511" width="1" height="3"/><text x="128.7" y="523.5" font-size="10" textLength="50.9" lengthAdjust="spacingAndGlyphs">25 Oct 2021</text>
<rect x="194" y="511" width="1" height="3"/><text x="192.7" y="523.5" font-size="10" textLength="49.3" lengthAdjust="spacingAndGlyphs">3 Nov 2021</text>
<rect x="258" y="511" width="1" height="3"/><text x="256.7" y="523.5" font-size="10" textLength="53.4" lengthAdjust="spacingAndGlyphs">12 Nov 2021</text>
<rect x="322" y="511" width="1" height="3"/><text x="320.7" y="523.5" font-size="10" textLength="54.5" lengthAdjust="spacingAndGlyphs">22 Nov 2021</text>
<rect x="386" y="511" width="1" height="3"/><text x="384.7" y="523.5" font-size="10" textLength="46.6" lengthAdjust="spacingAndGlyphs">1 Dec 2021</text>
<rect x="450" y="511" width="1" height="3"/><text x="448.7" y="523.5" font-size="10" textLength="52.0" lengthAdjust="spacingAndGlyphs">10 Dec 2021</text>
<rect x="514" y="511" width="1" height="3"/><text x="512.7" y="523.5" font-size="10" textLength="52.0" lengthAdjust="spacingAndGlyphs">20 Dec 2021</text>
<rect x="578" y="511" width="1" height="3"/><text x="576.7" y="523.5" font-size="10" textLength="51.3" lengthAdjust="spacingAndGlyphs">29 Dec 2021</text>
<rect x="642" y="511" width="1" height="3"/><text x="640.7" y="523.5" font-size="10" textLength="45.7" lengthAdjust="spacingAndGlyphs">7 Jan 2022</text>
<rect x="706" y="511" width="1" height="3"/><text x="704.7" y="523.5" font-size="10" textLength="50.3" lengthAdjust="spacingAndGlyphs">17 Jan 2022</text>
<rect x="770" y="511" width="1" height="3"/><text x="768.7" y="523.5" font-size="10" textLength="50.3" lengthAdjust="spacingAndGlyphs">26 Jan 2022</text>
<rect x="834" y="511" width="1" height="3"/><text x="832.7" y="523.5" font-size="10" textLength="47.8" lengthAdjust="spacingAndGlyphs">4 Feb 2022</text>
<rect x="898" y="511" width="1" height="3"/><text x="896.7" y="523.5" font-size="10" textLength="52.4" lengthAdjust="spacingAndGlyphs">14 Feb 2022</text>
</g>
<!-- tabs -->
<rect x="0" y="531" width="1192" height="1" fill="#E3E3E3"/>
<rect x="0" y="533" width="1192" height="23" fill="#F0F0F0"/>
<rect x="0" y="533" width="1192" height="1" fill="#000"/>
<rect x="103" y="532" width="108" height="20" fill="#FFFFFF"/>
<rect x="103" y="533" width="1" height="19" fill="#000"/>
<rect x="210" y="533" width="1" height="19" fill="#000"/>
<rect x="103" y="551" width="108" height="1" fill="#000"/>
<rect x="0" y="552" width="1192" height="4" fill="#F0F0F0"/>
<rect x="0" y="553" width="1192" height="1" fill="#FFFFFF"/>
<g fill="#6D6D6D">
<rect x="307" y="537" width="1" height="12"/>
<rect x="415" y="537" width="1" height="12"/>
<rect x="524" y="537" width="1" height="12"/>
<rect x="635" y="537" width="1" height="12"/>
<rect x="744" y="537" width="1" height="12"/>
<rect x="823" y="537" width="1" height="12"/>
<rect x="911" y="537" width="1" height="12"/>
<rect x="995" y="537" width="1" height="12"/>
</g>
<g font-size="12" fill="#7F7F7F">
<text x="14.0" y="547.5" font-size="12" textLength="78.5" lengthAdjust="spacingAndGlyphs">USDX,Weekly</text>
<text x="114.2" y="547.5" font-size="12" textLength="84.9" lengthAdjust="spacingAndGlyphs" fill="#000">EURUSD-,Daily</text>
<text x="220.5" y="547.5" font-size="12" textLength="76.0" lengthAdjust="spacingAndGlyphs">AUDUSD-,H4</text>
<text x="318.5" y="547.5" font-size="12" textLength="85.0" lengthAdjust="spacingAndGlyphs">USDCHF-,Daily</text>
<text x="426.0" y="547.5" font-size="12" textLength="86.2" lengthAdjust="spacingAndGlyphs">USDCAD-,Daily</text>
<text x="534.9" y="547.5" font-size="12" textLength="88.5" lengthAdjust="spacingAndGlyphs">USDCNH-,Daily</text>
<text x="646.1" y="547.5" font-size="12" textLength="86.4" lengthAdjust="spacingAndGlyphs">XAUUSD-,Daily</text>
<text x="754.1" y="547.5" font-size="12" textLength="57.6" lengthAdjust="spacingAndGlyphs">UKOil-,H4</text>
<text x="835.3" y="547.5" font-size="12" textLength="63.9" lengthAdjust="spacingAndGlyphs">DJ30-,Daily</text>
<text x="922.0" y="547.5" font-size="12" textLength="61.8" lengthAdjust="spacingAndGlyphs">UK100-,H1</text>
</g>
<g fill="#A0A0A0">
<polygon points="1167,539 1167,546 1163,542.5"/>
<polygon points="1183,539 1183,546 1187,542.5"/>
</g>
</svg>
</body></html>
